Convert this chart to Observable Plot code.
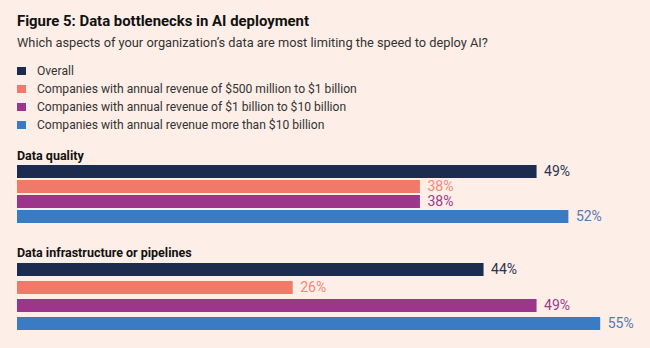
<!DOCTYPE html>
<html>
<head>
<meta charset="utf-8">
<script src="https://cdn.jsdelivr.net/npm/d3@7"></script>
<script src="https://cdn.jsdelivr.net/npm/@observablehq/plot@0.6"></script>
<style>
  html, body { margin: 0; padding: 0; background: #fdeee7; }
  body { width: 650px; height: 348px; overflow: hidden; font-family: Roboto, "Noto Sans", sans-serif; color: #222; }
  .pad { padding-left: 17px; }
  .title { font-weight: 700; font-size: 14.9px; line-height: 18px; margin-top: 12px; color: #111; }
  .subtitle { font-size: 12.8px; line-height: 18px; margin-top: 4px; color: #333; }
  .legend { margin-top: 10px; }
  .legend .row { height: 18px; line-height: 18px; font-size: 12.1px; color: #333; display: flex; align-items: center; }
  .legend .sw { width: 9px; height: 8px; margin-right: 11px; flex: none; }
  .glabel { font-weight: 700; font-size: 12.5px; line-height: 14px; color: #111; }
  svg.plot { display: block; max-width: none !important; overflow: visible; }
</style>
</head>
<body>
  <div class="title pad" id="title"></div>
  <div class="subtitle pad" id="subtitle"></div>
  <div class="legend pad" id="legend"></div>
  <div id="groups"></div>
<script>
const titleText = "Figure 5: Data bottlenecks in AI deployment";
const subtitleText = "Which aspects of your organization’s data are most limiting the speed to deploy AI?";
const series = [
  "Overall",
  "Companies with annual revenue of $500 million to $1 billion",
  "Companies with annual revenue of $1 billion to $10 billion",
  "Companies with annual revenue more than $10 billion"
];
const barColors = ["#1b2c4f", "#f0796a", "#9c368b", "#3a7bc4"];
const labelColors = ["#2b3350", "#ee8a78", "#9a3a8a", "#5679b4"];
const categories = ["Data quality", "Data infrastructure or pipelines"];
const dataQuality = [49, 38, 38, 52];
const dataInfrastructure = [44, 26, 49, 55];

document.getElementById("title").textContent = titleText;
document.getElementById("subtitle").textContent = subtitleText;

const legend = document.getElementById("legend");
series.forEach((s, i) => {
  const row = document.createElement("div");
  row.className = "row";
  const sw = document.createElement("span");
  sw.className = "sw";
  sw.style.background = barColors[i];
  const t = document.createElement("span");
  t.textContent = s;
  row.appendChild(sw); row.appendChild(t);
  legend.appendChild(row);
});

const groupValues = [dataQuality, dataInfrastructure];
const groupLayout = [
  {labelGap: 15, height: 63, top: 0, paddingInner: 0.12},
  {labelGap: 20, height: 74, top: 1, paddingInner: 0.26}
];

const groups = document.getElementById("groups");
categories.forEach((cat, gi) => {
  const lab = document.createElement("div");
  lab.className = "glabel pad";
  lab.style.marginTop = groupLayout[gi].labelGap + "px";
  lab.textContent = cat;
  groups.appendChild(lab);

  const data = series.map((s, i) => ({series: s, value: groupValues[gi][i], i}));
  const pi = groupLayout[gi].paddingInner;
  const chart = Plot.plot({
    width: 650,
    height: groupLayout[gi].height,
    marginLeft: 17,
    marginRight: 18,
    marginTop: groupLayout[gi].top,
    marginBottom: 1,
    style: {background: "transparent", fontFamily: "Roboto, 'Noto Sans', sans-serif", overflow: "visible"},
    x: {domain: [0, 58], axis: null},
    y: {domain: series, axis: null, paddingInner: pi, paddingOuter: pi / 2},
    color: {domain: series, range: barColors},
    marks: [
      Plot.barX(data, {x: "value", y: "series", fill: "series"}),
      Plot.text(data, {
        x: "value", y: "series",
        text: d => d.value + "%",
        dx: 7, textAnchor: "start",
        fontSize: 14,
        fill: d => labelColors[d.i]
      })
    ]
  });
  chart.classList.add("plot");
  groups.appendChild(chart);
});
</script>
</body>
</html>
